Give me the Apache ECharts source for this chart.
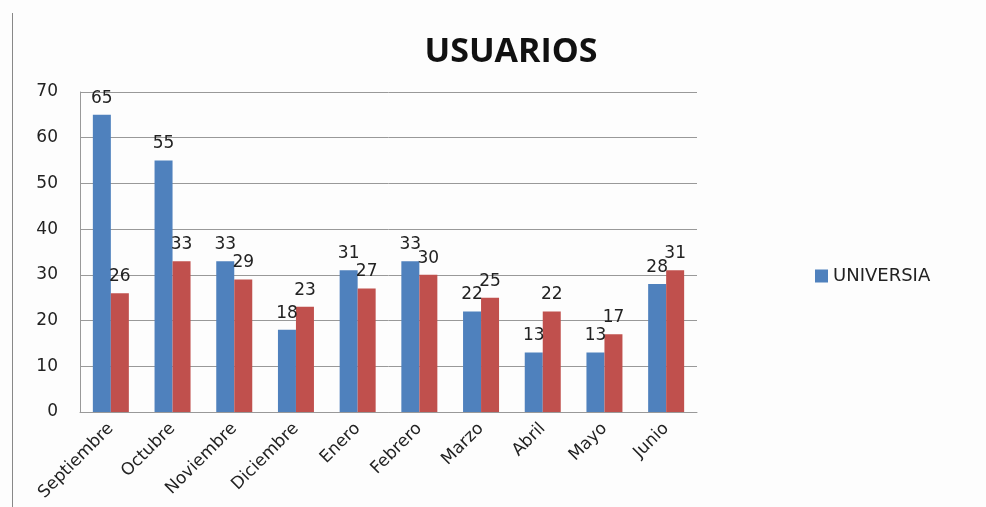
<!DOCTYPE html>
<html><head><meta charset="utf-8">
<script src="https://cdn.jsdelivr.net/npm/echarts@6/dist/echarts.min.js"></script>
<style>html,body{margin:0;padding:0;background:#fdfdfd}#c{width:986px;height:507px}</style>
</head><body><div id="c"></div>
<script>
const categories = ['Septiembre','Octubre','Noviembre','Diciembre','Enero','Febrero','Marzo','Abril','Mayo','Junio'];
const universia = [65,55,33,18,31,33,22,13,13,28];
const serie2 = [26,33,29,23,27,30,25,22,17,31];
const yTicks = {min:0, max:70, interval:10};

const chart = echarts.init(document.getElementById('c'));
const lbl = {show:true, position:'top', distance:8, color:'#222', fontFamily:'DejaVu Sans', fontSize:17};
chart.setOption({
  backgroundColor:'#fdfdfd',
  animation:false,
  title:{text:'USUARIOS', left:506, top:30, textAlign:'center',
    textStyle:{fontFamily:'Open Sans', fontWeight:'bold', fontSize:34, color:'#111'}},
  legend:{data:['UNIVERSIA'], left:810, top:262, itemWidth:13, itemHeight:13, itemGap:6,
    textStyle:{fontFamily:'DejaVu Sans', fontSize:18, color:'#222'}, icon:'rect'},
  grid:{left:80, right:289, top:92, bottom:95, containLabel:false},
  xAxis:{type:'category', data:categories,
    axisLine:{lineStyle:{color:'#999'}}, axisTick:{show:false},
    axisLabel:{rotate:45, interval:0, margin:14, color:'#222', fontFamily:'DejaVu Sans', fontSize:17}},
  yAxis:{type:'value', min:yTicks.min, max:yTicks.max, interval:yTicks.interval,
    axisLine:{show:true, lineStyle:{color:'#999'}}, axisTick:{show:false},
    splitLine:{lineStyle:{color:'#999'}},
    axisLabel:{margin:22, color:'#222', fontFamily:'DejaVu Sans', fontSize:17}},
  series:[
    {name:'UNIVERSIA', type:'bar', data:universia, barWidth:18, barGap:'0%',
      itemStyle:{color:'#4F81BD'}, label:lbl},
    {name:'Serie2', type:'bar', data:serie2, barWidth:18, barGap:'0%',
      itemStyle:{color:'#C0504D'}, label:lbl}
  ],
  graphic:[{type:'line', shape:{x1:12.5,y1:13,x2:12.5,y2:507}, style:{stroke:'#888', lineWidth:1}}]
});
</script></body></html>
